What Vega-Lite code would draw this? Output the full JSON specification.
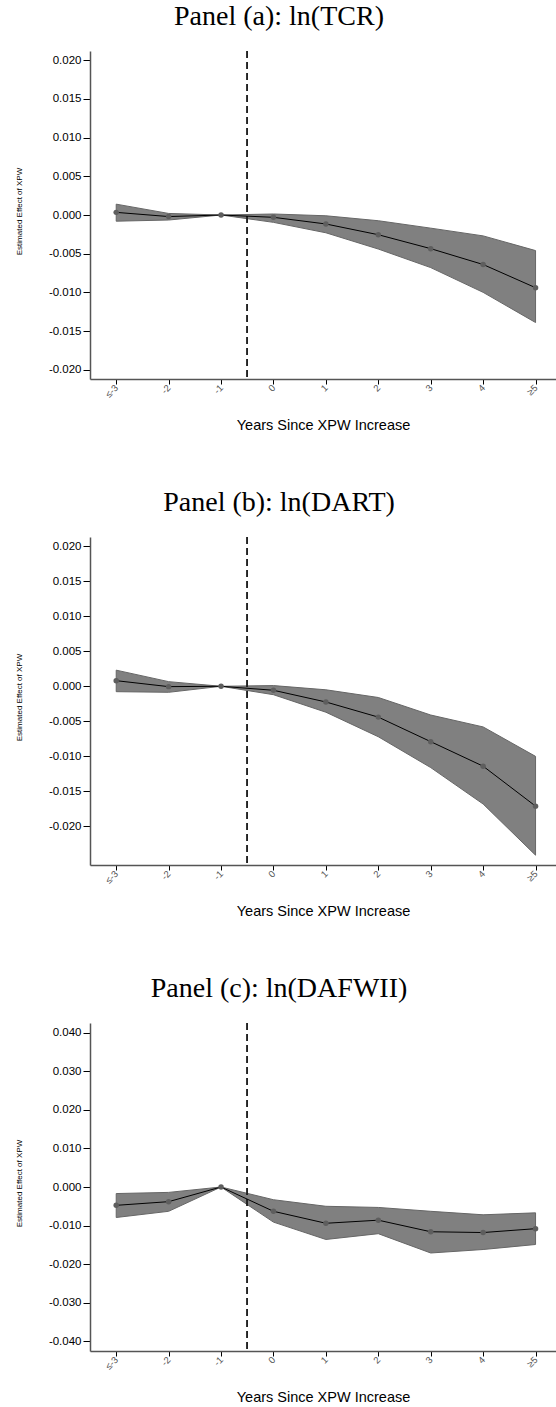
{
  "$schema": "https://vega.github.io/schema/vega-lite/v6.json",
  "padding": {"left": 15, "top": 2, "right": 0, "bottom": 0},
  "background": "white",
  "spacing": 56,
  "datasets": {
    "a": [
      {"x": -3, "b": 0.00034, "lo": -0.0008, "hi": 0.0014},
      {"x": -2, "b": -0.0002, "lo": -0.00065, "hi": 0.0002},
      {"x": -1, "b": 0, "lo": 0, "hi": 0},
      {"x": 0, "b": -0.0003, "lo": -0.00095, "hi": 0.00013},
      {"x": 1, "b": -0.00116, "lo": -0.0023, "hi": -0.0001},
      {"x": 2, "b": -0.00255, "lo": -0.0044, "hi": -0.00074},
      {"x": 3, "b": -0.00435, "lo": -0.0068, "hi": -0.0017},
      {"x": 4, "b": -0.0064, "lo": -0.0100, "hi": -0.0027},
      {"x": 5, "b": -0.0094, "lo": -0.0139, "hi": -0.0046}
    ],
    "b": [
      {"x": -3, "b": 0.0008, "lo": -0.00077, "hi": 0.0023},
      {"x": -2, "b": -0.00005, "lo": -0.00086, "hi": 0.00066},
      {"x": -1, "b": 0, "lo": 0, "hi": 0},
      {"x": 0, "b": -0.00057, "lo": -0.0012, "hi": 0.0001},
      {"x": 1, "b": -0.00224, "lo": -0.0037, "hi": -0.0005},
      {"x": 2, "b": -0.0044, "lo": -0.0072, "hi": -0.0016},
      {"x": 3, "b": -0.0079, "lo": -0.0116, "hi": -0.0041},
      {"x": 4, "b": -0.0114, "lo": -0.0168, "hi": -0.0058},
      {"x": 5, "b": -0.0171, "lo": -0.0241, "hi": -0.0100}
    ],
    "c": [
      {"x": -3, "b": -0.00475, "lo": -0.0079, "hi": -0.0017},
      {"x": -2, "b": -0.0038, "lo": -0.0063, "hi": -0.0014},
      {"x": -1, "b": 0, "lo": 0, "hi": 0},
      {"x": 0, "b": -0.0063, "lo": -0.0091, "hi": -0.0033},
      {"x": 1, "b": -0.0094, "lo": -0.0136, "hi": -0.0050},
      {"x": 2, "b": -0.0086, "lo": -0.0121, "hi": -0.0053},
      {"x": 3, "b": -0.0116, "lo": -0.0171, "hi": -0.0063},
      {"x": 4, "b": -0.0118, "lo": -0.0162, "hi": -0.0072},
      {"x": 5, "b": -0.0108, "lo": -0.0149, "hi": -0.0067}
    ]
  },
  "vconcat": [
    {
      "title": {"text": "Panel (a): ln(TCR)"},
      "width": 466, "height": 328,
      "data": {"name": "a"},
      "encoding": {
        "x": {"field": "x", "type": "quantitative", "scale": {"domain": [-3.5, 5.39], "nice": false, "zero": false},
          "axis": {"values": [-3, -2, -1, 0, 1, 2, 3, 4, 5], "labelExpr": "datum.value == -3 ? '≤-3' : datum.value == 5 ? '≥5' : '' + datum.value", "title": "Years Since XPW Increase", "labelAngle": -45, "labelAlign": "right", "labelBaseline": "middle", "titleY": 46, "titleBaseline": "middle", "labelColor": "#555555", "labelFontSize": 9.5, "tickSize": 5}}
      },
      "layer": [
        {"mark": {"type": "area", "color": "#808080", "stroke": "#666666", "strokeWidth": 1, "opacity": 1},
          "encoding": {"y": {"field": "lo", "type": "quantitative", "scale": {"domain": [-0.0212, 0.0212], "nice": false, "zero": false},
            "axis": {"values": [-0.02, -0.015, -0.01, -0.005, 0, 0.005, 0.01, 0.015, 0.02], "labelExpr": "replace(format(datum.value, '.3f'), '−', '-')", "title": "Estimated Effect of XPW", "titleX": -71, "titleY": 160, "titleFontSize": 8, "titleBaseline": "middle", "titleAlign": "center"}},
            "y2": {"field": "hi"}}},
        {"mark": {"type": "rule", "color": "#000000", "strokeWidth": 1.2}, "encoding": {"y": {"datum": 0}}},
        {"mark": {"type": "rule", "color": "#222222", "strokeWidth": 0.9, "strokeDash": [7, 4]}, "encoding": {"x": {"datum": -0.5}}},
        {"mark": {"type": "line", "color": "#000000", "strokeWidth": 1}, "encoding": {"y": {"field": "b", "type": "quantitative"}}},
        {"mark": {"type": "point", "filled": true, "color": "#5e5e5e", "size": 30, "opacity": 1}, "encoding": {"y": {"field": "b", "type": "quantitative"}}}
      ]
    },
    {
      "title": {"text": "Panel (b): ln(DART)"},
      "width": 466, "height": 328,
      "data": {"name": "b"},
      "encoding": {
        "x": {"field": "x", "type": "quantitative", "scale": {"domain": [-3.5, 5.39], "nice": false, "zero": false},
          "axis": {"values": [-3, -2, -1, 0, 1, 2, 3, 4, 5], "labelExpr": "datum.value == -3 ? '≤-3' : datum.value == 5 ? '≥5' : '' + datum.value", "title": "Years Since XPW Increase", "labelAngle": -45, "labelAlign": "right", "labelBaseline": "middle", "titleY": 46, "titleBaseline": "middle", "labelColor": "#555555", "labelFontSize": 9.5, "tickSize": 5}}
      },
      "layer": [
        {"mark": {"type": "area", "color": "#808080", "stroke": "#666666", "strokeWidth": 1, "opacity": 1},
          "encoding": {"y": {"field": "lo", "type": "quantitative", "scale": {"domain": [-0.0255, 0.0213], "nice": false, "zero": false},
            "axis": {"values": [-0.02, -0.015, -0.01, -0.005, 0, 0.005, 0.01, 0.015, 0.02], "labelExpr": "replace(format(datum.value, '.3f'), '−', '-')", "title": "Estimated Effect of XPW", "titleX": -71, "titleY": 160, "titleFontSize": 8, "titleBaseline": "middle", "titleAlign": "center"}},
            "y2": {"field": "hi"}}},
        {"mark": {"type": "rule", "color": "#000000", "strokeWidth": 1.2}, "encoding": {"y": {"datum": 0}}},
        {"mark": {"type": "rule", "color": "#222222", "strokeWidth": 0.9, "strokeDash": [7, 4]}, "encoding": {"x": {"datum": -0.5}}},
        {"mark": {"type": "line", "color": "#000000", "strokeWidth": 1}, "encoding": {"y": {"field": "b", "type": "quantitative"}}},
        {"mark": {"type": "point", "filled": true, "color": "#5e5e5e", "size": 30, "opacity": 1}, "encoding": {"y": {"field": "b", "type": "quantitative"}}}
      ]
    },
    {
      "title": {"text": "Panel (c): ln(DAFWII)"},
      "width": 466, "height": 328,
      "data": {"name": "c"},
      "encoding": {
        "x": {"field": "x", "type": "quantitative", "scale": {"domain": [-3.5, 5.39], "nice": false, "zero": false},
          "axis": {"values": [-3, -2, -1, 0, 1, 2, 3, 4, 5], "labelExpr": "datum.value == -3 ? '≤-3' : datum.value == 5 ? '≥5' : '' + datum.value", "title": "Years Since XPW Increase", "labelAngle": -45, "labelAlign": "right", "labelBaseline": "middle", "titleY": 46, "titleBaseline": "middle", "labelColor": "#555555", "labelFontSize": 9.5, "tickSize": 5}}
      },
      "layer": [
        {"mark": {"type": "area", "color": "#808080", "stroke": "#666666", "strokeWidth": 1, "opacity": 1},
          "encoding": {"y": {"field": "lo", "type": "quantitative", "scale": {"domain": [-0.0425, 0.0425], "nice": false, "zero": false},
            "axis": {"values": [-0.04, -0.03, -0.02, -0.01, 0, 0.01, 0.02, 0.03, 0.04], "labelExpr": "replace(format(datum.value, '.3f'), '−', '-')", "title": "Estimated Effect of XPW", "titleX": -71, "titleY": 160, "titleFontSize": 8, "titleBaseline": "middle", "titleAlign": "center"}},
            "y2": {"field": "hi"}}},
        {"mark": {"type": "rule", "color": "#000000", "strokeWidth": 1.2}, "encoding": {"y": {"datum": 0}}},
        {"mark": {"type": "rule", "color": "#222222", "strokeWidth": 0.9, "strokeDash": [7, 4]}, "encoding": {"x": {"datum": -0.5}}},
        {"mark": {"type": "line", "color": "#000000", "strokeWidth": 1}, "encoding": {"y": {"field": "b", "type": "quantitative"}}},
        {"mark": {"type": "point", "filled": true, "color": "#5e5e5e", "size": 30, "opacity": 1}, "encoding": {"y": {"field": "b", "type": "quantitative"}}}
      ]
    }
  ],
  "config": {
    "view": {"stroke": null},
    "axis": {"grid": false, "domainColor": "#555555", "domainWidth": 1.5, "tickColor": "#000000", "tickSize": 7, "labelFont": "Liberation Sans", "titleFont": "Liberation Sans", "labelColor": "#000000", "titleColor": "#000000", "titleFontWeight": "normal", "labelFontSize": 11.5, "titleFontSize": 14.5, "labelPadding": 2},
    "title": {"font": "Liberation Serif", "fontSize": 28, "fontWeight": "normal", "color": "#000000", "frame": "group", "anchor": "middle", "dx": -44, "baseline": "alphabetic", "offset": 20}
  }
}
